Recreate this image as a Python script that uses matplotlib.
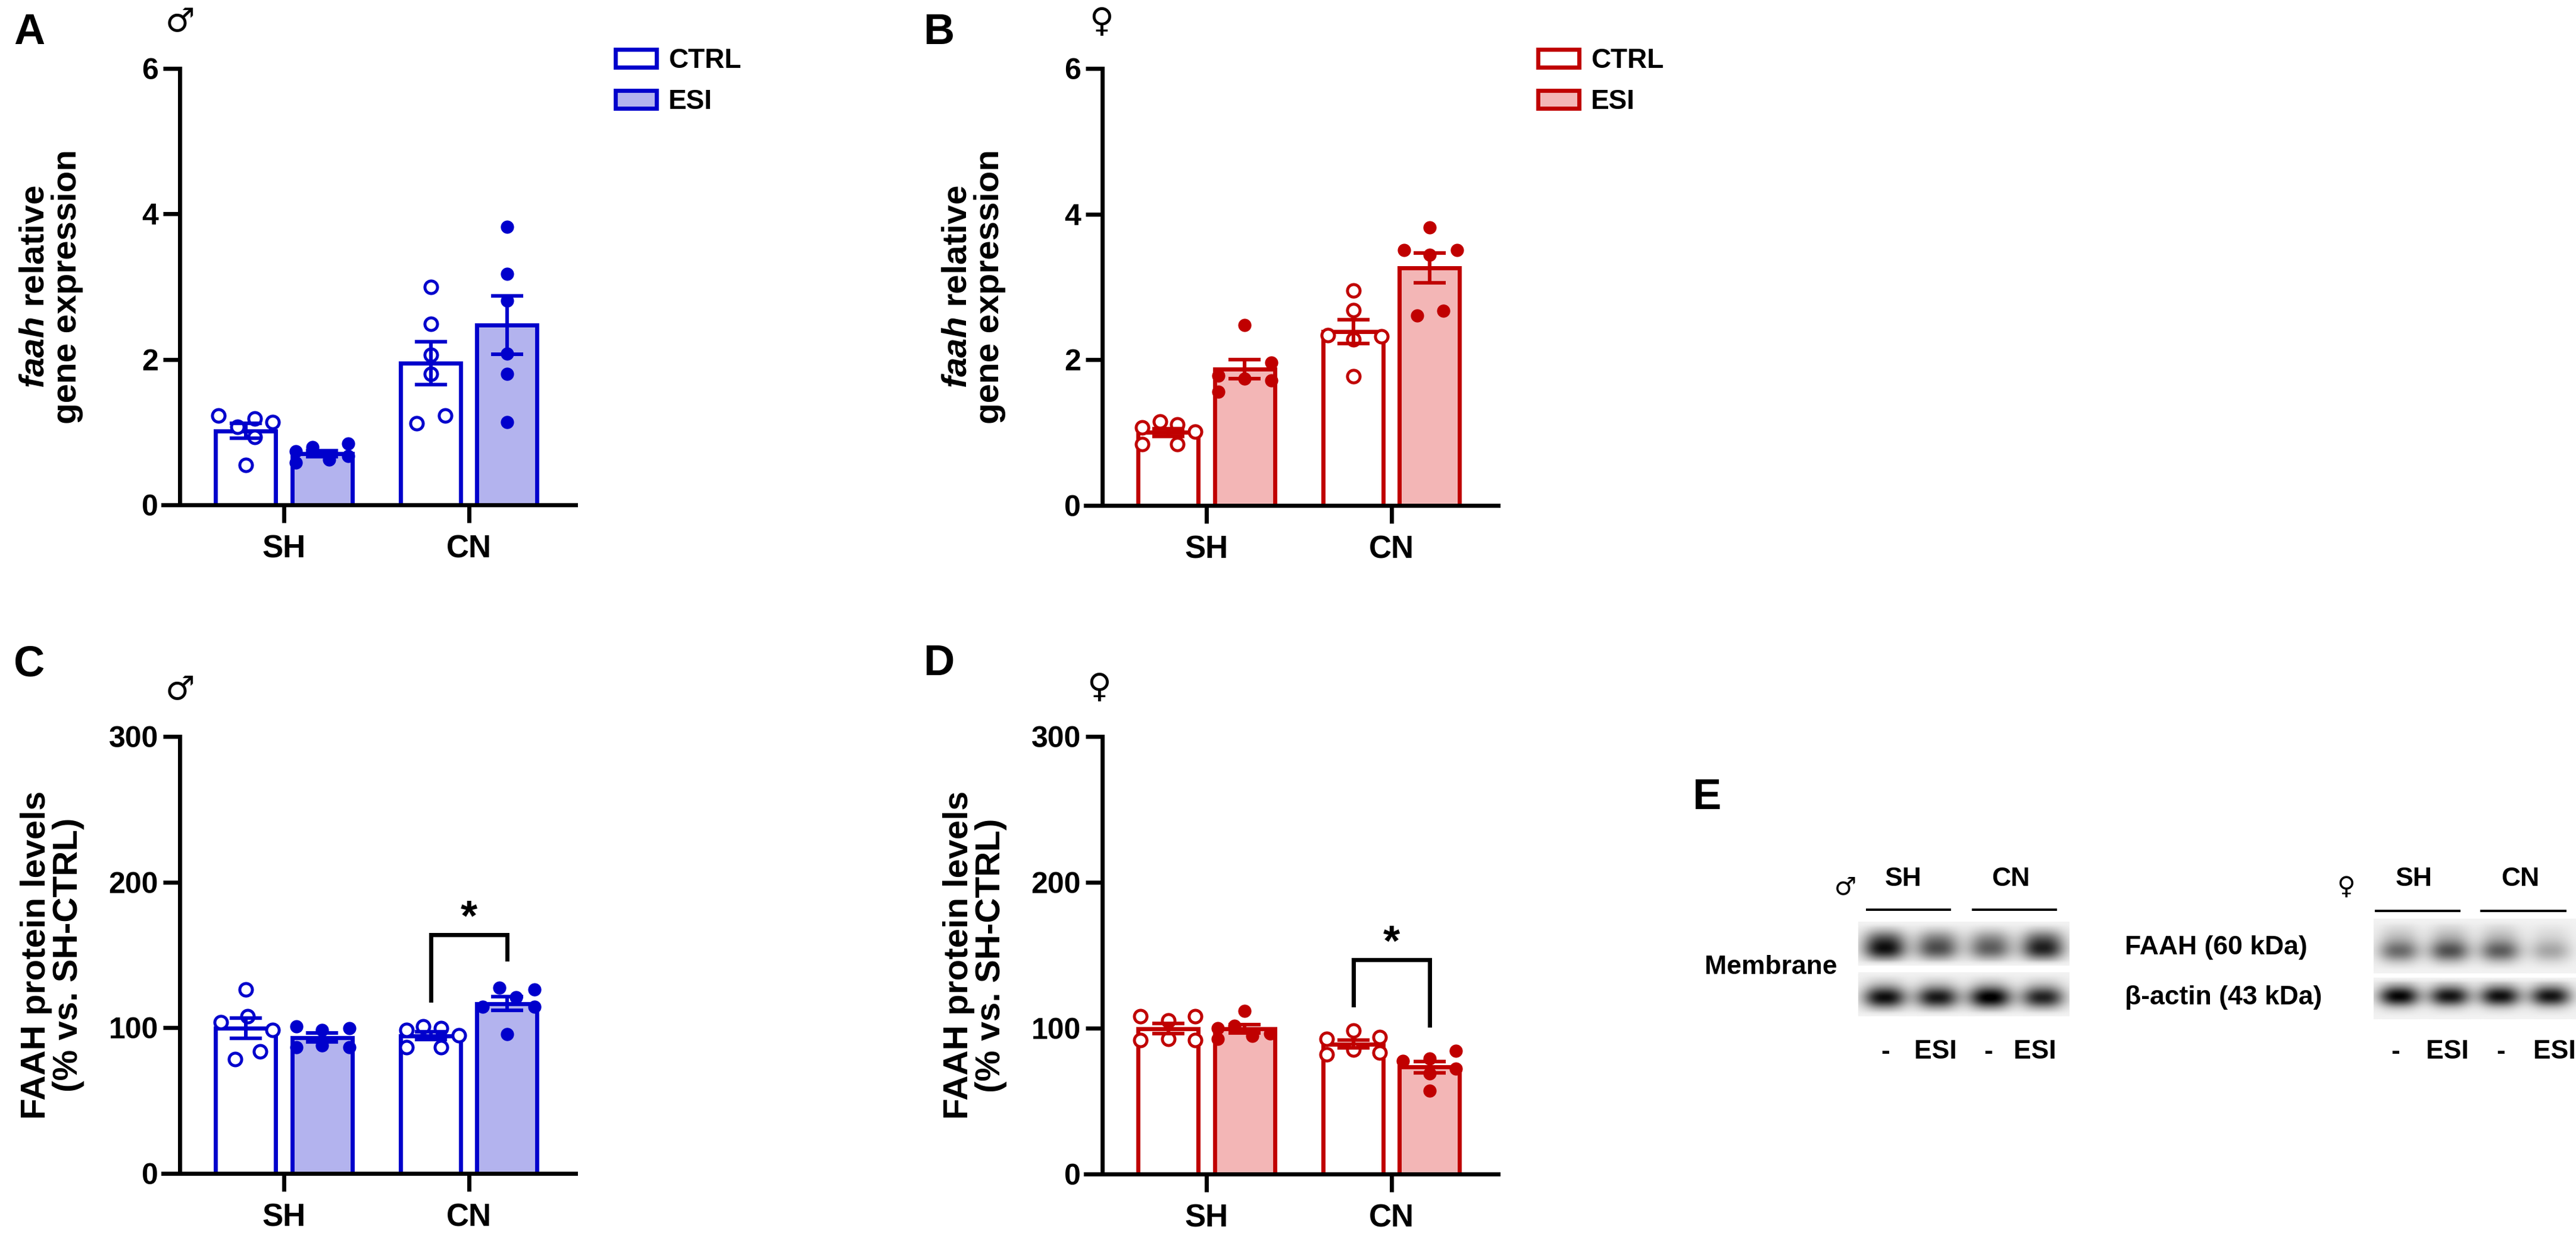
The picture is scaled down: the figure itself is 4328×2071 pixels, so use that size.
import numpy as np
import matplotlib
matplotlib.use('Agg')
from matplotlib import pyplot as plt
from matplotlib.patches import Patch

plt.rcParams['font.family'] = ['Liberation Sans', 'DejaVu Sans']
plt.rcParams['font.weight'] = 'bold'
plt.rcParams['mathtext.fontset'] = 'custom'
plt.rcParams['mathtext.it'] = 'Liberation Sans:italic:bold'
plt.rcParams['mathtext.rm'] = 'Liberation Sans:bold'

W, H = 4328, 2071
DPI = 200

groups = ['SH', 'CN']
conditions = ['CTRL', 'ESI']

# A - faah mRNA, males
a_sh_ctrl = [1.23, 1.07, 1.19, 1.14, 0.93, 0.55]
a_sh_esi = [0.74, 0.79, 0.62, 0.84, 0.67, 0.58]
a_cn_ctrl = [3.00, 2.49, 2.06, 1.80, 1.23, 1.12]
a_cn_esi = [3.82, 3.18, 2.81, 2.08, 1.80, 1.14]
# B - faah mRNA, females
b_sh_ctrl = [1.07, 1.15, 1.11, 1.01, 0.84, 0.84]
b_sh_esi = [2.48, 1.96, 1.78, 1.74, 1.72, 1.56]
b_cn_ctrl = [2.95, 2.68, 2.34, 2.32, 2.28, 1.77]
b_cn_esi = [3.82, 3.51, 3.51, 3.44, 2.61, 2.67]
# C - FAAH protein, males
c_sh_ctrl = [126.4, 103.8, 107.8, 98.5, 78.5, 83.8]
c_sh_esi = [101.1, 98.5, 99.8, 86.5, 87.8, 86.5]
c_cn_ctrl = [98.5, 101.1, 99.8, 95.0, 86.5, 86.5]
c_cn_esi = [127.7, 121.1, 126.4, 114.4, 114.4, 95.8]
# D - FAAH protein, females
d_sh_ctrl = [108.1, 105.4, 108.1, 91.9, 92.8, 91.9]
d_sh_esi = [100.0, 101.8, 111.7, 94.6, 96.4, 92.8]
d_cn_ctrl = [92.8, 98.2, 93.7, 81.9, 85.3, 83.2]
d_cn_esi = [84.6, 77.4, 79.1, 72.3, 68.9, 57.3]

# E - blot band darkness per lane (SH-, SH ESI, CN-, CN ESI)
male_faah = [0.80, 0.58, 0.52, 0.74]
male_actin = [0.88, 0.84, 0.95, 0.80]
female_faah = [0.50, 0.60, 0.55, 0.28]
female_actin = [0.92, 0.86, 0.88, 0.86]
lane_labels = ['-', 'ESI', '-', 'ESI']

# horizontal scatter of the dots inside each bar (layout)
jit_a = [[-0.148, -0.045, 0.048, 0.145, 0.048, 0.0], [-0.141, -0.051, 0.039, 0.141, 0.141, -0.141],
         [0.0, 0.0, 0.0, 0.0, 0.077, -0.077], [0.0, 0.0, 0.0, 0.0, 0.0, 0.0]]
jit_b = [[-0.141, -0.045, 0.048, 0.145, -0.141, 0.048], [0.0, 0.145, -0.141, 0.0, 0.145, -0.141],
         [0.0, 0.0, -0.138, 0.151, 0.0, 0.0], [0.0, -0.138, 0.148, 0.0, -0.068, 0.074]]
jit_c = [[0.0, -0.135, 0.01, 0.145, -0.058, 0.077], [-0.138, 0.0, 0.148, -0.138, 0.0, 0.148],
         [-0.132, -0.042, 0.055, 0.151, -0.132, 0.055], [-0.042, 0.048, 0.148, -0.132, 0.148, 0.0]]
jit_d = [[-0.151, 0.0, 0.145, -0.151, 0.0, 0.145], [-0.145, -0.055, 0.0, 0.042, 0.138, -0.145],
         [-0.145, 0.0, 0.142, -0.145, 0.0, 0.142], [0.142, -0.145, 0.0, 0.142, 0.0, 0.0]]

BLUE = '#0000CC'
BLUE_FILL = '#B3B3EE'
RED = '#C00000'
RED_FILL = '#F3B6B6'


def px_rect(x0, ytop, x1, ybot):
    return [x0 / W, 1 - ybot / H, (x1 - x0) / W, (ybot - ytop) / H]


fig = plt.figure(figsize=(W / DPI, H / DPI), dpi=DPI)


def draw_panel(rect, series, jit, edge, fill, ymax, yticks, ylabel, label_x, legend_x=None, bracket=None):
    ax = fig.add_axes(rect)
    ax.set_xlim(-0.653, 1.576)
    ax.set_ylim(0, ymax)
    for s in ['top', 'right']:
        ax.spines[s].set_visible(False)
    ax.spines['left'].set_position(('data', -0.563))
    ax.spines['left'].set_bounds(0, ymax)
    for s in ['left', 'bottom']:
        ax.spines[s].set_linewidth(2.5)
    off = [-0.206, 0.206]
    k = 0
    for g in range(2):
        for c in range(2):
            vals = np.array(series[k])
            x = g + off[c]
            m = vals.mean()
            sem = vals.std(ddof=1) / np.sqrt(len(vals))
            ax.bar(x, m, width=0.325, color='white' if c == 0 else fill, edgecolor=edge, lw=2.5, zorder=2)
            xs = x + np.array(jit[k])
            if c == 0:
                ax.plot(xs, vals, 'o', ms=7.6, mfc='white', mec=edge, mew=1.8, clip_on=False, zorder=3)
            else:
                ax.plot(xs, vals, 'o', ms=8, mfc=edge, mec=edge, mew=0, clip_on=False, zorder=3)
            ax.errorbar(x, m, yerr=sem, color=edge, lw=2.2, capsize=9.7, capthick=2.2, zorder=4)
            k += 1
    ax.set_xticks([0, 1])
    ax.set_xticklabels(groups)
    ax.set_yticks(yticks)
    ax.tick_params(axis='x', length=10.8, width=2.5, pad=7, labelsize=19)
    ax.tick_params(axis='y', length=10, width=2.5, pad=3, labelsize=18)
    bb = ax.get_position()
    fig.text(label_x / W, bb.y0 + bb.height / 2, ylabel, rotation=90, ha='center', va='center',
             fontsize=21, linespacing=1.0, multialignment='center')
    if legend_x is not None:
        handles = [Patch(facecolor='white', edgecolor=edge, lw=2.5), Patch(facecolor=fill, edgecolor=edge, lw=2.5)]
        ax.legend(handles, conditions, loc='upper left', bbox_to_anchor=(legend_x / W, 1 - 80 / H),
                  bbox_transform=fig.transFigure, frameon=False, fontsize=16.5, handlelength=1.5,
                  handleheight=0.61, handletextpad=0.45, labelspacing=0.55, borderpad=0, borderaxespad=0)
    if bracket is not None:
        left_leg, top, right_leg = bracket
        x1, x2 = 1 + off[0], 1 + off[1]
        ax.plot([x1, x1, x2, x2], [left_leg, top, top, right_leg], color='k', lw=2.5, clip_on=False,
                solid_joinstyle='miter', zorder=5)
        ax.text(1, top + 3, '*', ha='center', va='baseline', fontsize=26)
    return ax


lab_mrna = '$\\mathit{faah}$ relative\ngene expression'
lab_prot = 'FAAH protein levels\n(% vs. SH-CTRL)'

draw_panel(px_rect(274, 115, 967, 848), [a_sh_ctrl, a_sh_esi, a_cn_ctrl, a_cn_esi], jit_a,
           BLUE, BLUE_FILL, 6, [0, 2, 4, 6], lab_mrna, 86, legend_x=1034)
draw_panel(px_rect(1824, 115, 2517, 849), [b_sh_ctrl, b_sh_esi, b_cn_ctrl, b_cn_esi], jit_b,
           RED, RED_FILL, 6, [0, 2, 4, 6], lab_mrna, 1636, legend_x=2584)
draw_panel(px_rect(274, 1237, 967, 1971), [c_sh_ctrl, c_sh_esi, c_cn_ctrl, c_cn_esi], jit_c,
           BLUE, BLUE_FILL, 300, [0, 100, 200, 300], lab_prot, 88, bracket=(119, 164, 147))
draw_panel(px_rect(1824, 1237, 2517, 1972), [d_sh_ctrl, d_sh_esi, d_cn_ctrl, d_cn_esi], jit_d,
           RED, RED_FILL, 300, [0, 100, 200, 300], lab_prot, 1638, bracket=(116, 147, 102))

# panel letters and sex symbols
for txt, x, y in [('A', 49, 55), ('B', 1577, 55), ('C', 49, 1117), ('D', 1577, 1115), ('E', 2867, 1340)]:
    fig.text(x / W, 1 - y / H, txt, ha='center', va='center', fontsize=26)
for txt, x, y in [('\u2642', 302, 37), ('\u2640', 1851, 38), ('\u2642', 303, 1159), ('\u2640', 1847, 1156)]:
    fig.text(x / W, 1 - y / H, txt, ha='center', va='center', fontsize=20, family='DejaVu Sans', weight='normal')

# panel E: blots drawn on an overlay in pixel coordinates
ax_e = fig.add_axes([0, 0, 1, 1])
ax_e.patch.set_visible(False)
ax_e.axis('off')


def blot(x0, x1, y0, y1, bands, band_y, width, smear):
    ny, nx = 90, 320
    img = np.full((ny, nx), 0.05)
    xs = np.linspace(0, 1, nx)
    ys = np.linspace(0, 1, ny)
    n = len(bands)
    # soft fade at the strip border
    edge_y = np.clip(np.minimum(ys, 1 - ys) / 0.12, 0, 1)
    for i, b in enumerate(bands):
        cx = (i + 0.5) / n
        prof_x = np.exp(-np.abs((xs - cx) / (0.40 / n)) ** 2.5)
        prof_y = np.exp(-((ys - band_y) / width) ** 2)
        prof_y = prof_y + smear * np.exp(-((ys - band_y + 0.28) / 0.22) ** 2)
        img += b * np.outer(prof_y * edge_y, prof_x)
    ax_e.imshow(np.clip(img, 0, 1), cmap='gray_r', vmin=0, vmax=1, extent=(x0, x1, y1, y0),
                aspect='auto', interpolation='bicubic', zorder=1)


blot(3122, 3477, 1548, 1622, male_faah, 0.64, 0.24, 0.5)
blot(3122, 3477, 1633, 1707, male_actin, 0.58, 0.24, 0.12)
blot(3988, 4328, 1543, 1635, female_faah, 0.6, 0.2, 0.3)
blot(3988, 4328, 1642, 1712, female_actin, 0.45, 0.24, 0.08)
ax_e.set_xlim(0, W)
ax_e.set_ylim(H, 0)

efont = ['Liberation Sans Narrow', 'Liberation Sans', 'DejaVu Sans']
for txt, x in [('SH', 3198), ('CN', 3378), ('SH', 4056), ('CN', 4234)]:
    ax_e.text(x, 1477, txt, ha='center', va='center', fontsize=16, family=efont)
for x0, x1, y in [(3137, 3276, 1528), (3315, 3454, 1528), (3992, 4132, 1530), (4169, 4310, 1530)]:
    ax_e.plot([x0, x1], [y, y], color='k', lw=1.4)
ax_e.text(3100, 1490, '\u2642', ha='center', va='center', fontsize=15, family='DejaVu Sans', weight='normal')
ax_e.text(3942, 1490, '\u2640', ha='center', va='center', fontsize=15, family='DejaVu Sans', weight='normal')
ax_e.text(2975, 1625, 'Membrane', ha='center', va='center', fontsize=16, family=efont)
ax_e.text(3570, 1592, 'FAAH (60 kDa)', ha='left', va='center', fontsize=16, family=efont)
ax_e.text(3570, 1675, '\u03b2-actin (43 kDa)', ha='left', va='center', fontsize=16, family=efont)
for xs in [(3168, 3252, 3341, 3419), (4025, 4112, 4202, 4292)]:
    for x, lab in zip(xs, lane_labels):
        ax_e.text(x, 1767, lab, ha='center', va='center', fontsize=16, family=efont)

fig.savefig('out.png', dpi=DPI)
